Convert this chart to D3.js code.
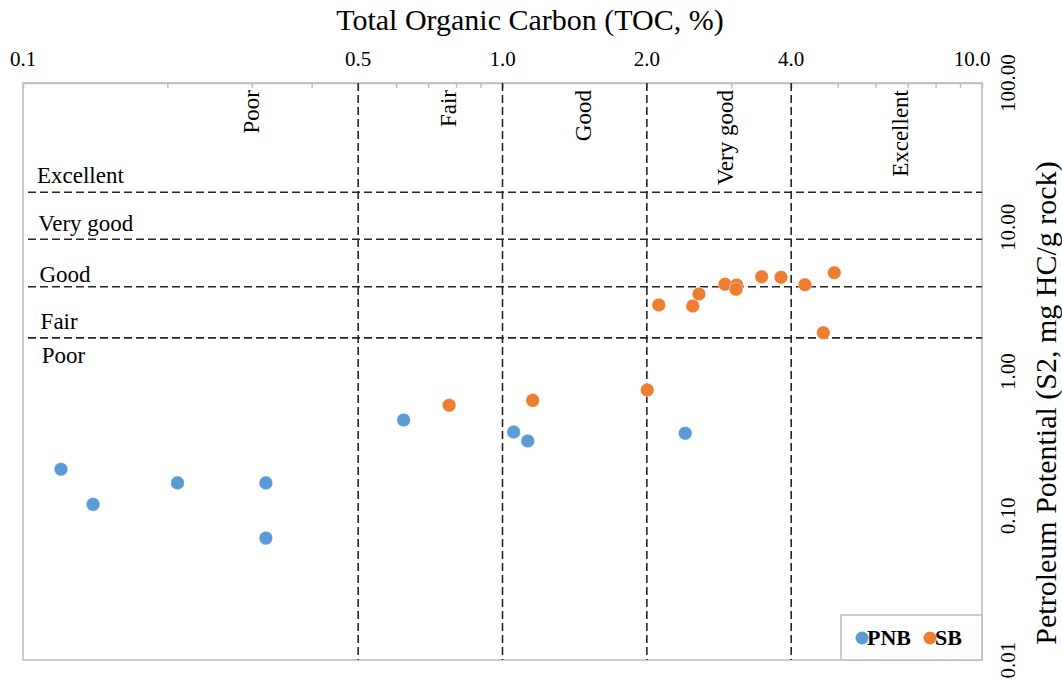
<!DOCTYPE html>
<html>
<head>
<meta charset="utf-8">
<script src="https://cdn.jsdelivr.net/npm/d3@7"></script>
<style>
  html, body { margin: 0; padding: 0; background: #fff; }
  svg { display: block; }
</style>
</head>
<body>
<svg id="chart" width="1062" height="679" font-family="'Liberation Serif', 'Times New Roman', 'DejaVu Serif', serif"></svg>
<script>
// ---------------- DATA ----------------
const seriesNames = ["PNB", "SB"];
const seriesColors = ["#5b9bd5", "#ed7d31"];

// PNB: TOC (%), S2 (mg HC/g rock)
const pnbTOC = [0.120, 0.140, 0.210, 0.321, 0.321, 0.622, 1.055, 1.129, 2.405];
const pnbS2  = [0.210, 0.120, 0.169, 0.169, 0.070, 0.461, 0.381, 0.330, 0.373];

// SB
const sbTOC = [0.774, 1.156, 2.004, 2.118, 2.493, 2.569, 2.911, 3.079, 3.069, 3.471, 3.809, 4.274, 4.667, 4.920];
const sbS2  = [0.583, 0.631, 0.744, 2.891, 2.845, 3.446, 4.023, 3.979, 3.714, 4.542, 4.498, 3.998, 1.858, 4.842];

// Axis ticks
const xTickValues = [0.1, 0.5, 1, 2, 4, 10];
const xTickLabels = ["0.1", "0.5", "1.0", "2.0", "4.0", "10.0"];
const yTickValues = [0.01, 0.1, 1, 10, 100];
const yTickLabels = ["0.01", "0.10", "1.00", "10.00", "100.00"];

// Classification thresholds (as drawn)
const tocThresholds = [0.5, 1, 2, 4];
const tocClassNames = ["Poor", "Fair", "Good", "Very good", "Excellent"];
const tocClassPos   = [0.31, 0.80, 1.53, 3.02, 7.0];    // label baselines (TOC)
const s2Thresholds  = [17.5, 8.25, 3.87, 1.71];
const s2ClassNames  = ["Excellent", "Very good", "Good", "Fair", "Poor"];
const s2ClassPos    = [20.3, 9.42, 4.19, 1.97, 1.145];  // label baselines (S2)

const xTitle = "Total Organic Carbon (TOC, %)";
const yTitle = "Petroleum Potential (S2, mg HC/g rock)";

// ---------------- LAYOUT ----------------
const svg = d3.select("#chart");
const L = 23, R = 982, T = 83, B = 660;
const x = d3.scaleLog().domain([0.1, 10]).range([L, R]);
const y = d3.scaleLog().domain([0.01, 100]).range([B, T]);
const axisColor = "#bfbfbf";
const dash = "8,4";
const lineColor = "#262626";
const serif = "'Liberation Serif', 'Times New Roman', 'DejaVu Serif', serif";

// plot frame
svg.append("rect").attr("x", L).attr("y", T).attr("width", R - L).attr("height", B - T)
  .attr("fill", "none").attr("stroke", axisColor).attr("stroke-width", 1.6);

// top axis with minor ticks (inside)
const topAxis = d3.axisTop(x).tickValues(x.ticks()).tickSizeInner(-5).tickSizeOuter(0).tickFormat("");
const gTop = svg.append("g").attr("transform", `translate(0,${T})`).call(topAxis);
gTop.select(".domain").attr("stroke", axisColor).attr("stroke-width", 1.6);
gTop.selectAll(".tick line").attr("stroke", axisColor).attr("stroke-width", 1.5);

// top tick labels
svg.append("g").selectAll("text").data(xTickValues).join("text")
  .attr("x", (d, i) => x(d) + (i === xTickValues.length - 1 ? -10 : 0))
  .attr("y", 66)
  .attr("text-anchor", "middle")
  .attr("font-family", serif)
  .attr("font-size", 21)
  .text((d, i) => xTickLabels[i]);

// right tick labels (rotated)
svg.append("g").selectAll("text").data(yTickValues).join("text")
  .attr("transform", d => `translate(1015,${y(d)}) rotate(-90)`)
  .attr("text-anchor", "middle")
  .attr("font-family", serif)
  .attr("font-size", 21)
  .text((d, i) => yTickLabels[i]);

// threshold lines
svg.append("g").selectAll("line").data(tocThresholds).join("line")
  .attr("x1", d => x(d)).attr("x2", d => x(d))
  .attr("y1", T).attr("y2", B)
  .attr("stroke", lineColor).attr("stroke-width", 1.6).attr("stroke-dasharray", dash);

svg.append("g").selectAll("line").data(s2Thresholds).join("line")
  .attr("x1", L + 5).attr("x2", R)
  .attr("y1", d => y(d)).attr("y2", d => y(d))
  .attr("stroke", lineColor).attr("stroke-width", 1.6).attr("stroke-dasharray", dash);

// class labels (TOC, vertical)
svg.append("g").selectAll("text").data(tocClassNames).join("text")
  .attr("transform", (d, i) => `translate(${x(tocClassPos[i])},90) rotate(-90)`)
  .attr("text-anchor", "end")
  .attr("font-family", serif)
  .attr("font-size", 23)
  .text(d => d);

// class labels (S2, horizontal)
svg.append("g").selectAll("text").data(s2ClassNames).join("text")
  .attr("x", (d, i) => 37 + i * 1.2)
  .attr("y", (d, i) => y(s2ClassPos[i]))
  .attr("font-family", serif)
  .attr("font-size", 23)
  .text(d => d);

// points
const pnb = pnbTOC.map((t, i) => ({ toc: t, s2: pnbS2[i] }));
const sb = sbTOC.map((t, i) => ({ toc: t, s2: sbS2[i] }));
[pnb, sb].forEach((data, k) => {
  svg.append("g").selectAll("circle").data(data).join("circle")
    .attr("cx", d => x(d.toc)).attr("cy", d => y(d.s2))
    .attr("r", 6.8)
    .attr("fill", seriesColors[k])
    .attr("stroke", "#ffffff").attr("stroke-width", 0.6).attr("stroke-opacity", 0.6);
});

// legend
const lg = svg.append("g");
lg.append("rect").attr("x", R - 141).attr("y", B - 45).attr("width", 141).attr("height", 45)
  .attr("fill", "#fff").attr("stroke", axisColor).attr("stroke-width", 1.6);
const legendX = [R - 120, R - 52];
seriesNames.forEach((n, i) => {
  lg.append("circle").attr("cx", legendX[i]).attr("cy", B - 22).attr("r", 6.5).attr("fill", seriesColors[i]);
  lg.append("text").attr("x", legendX[i] + 5).attr("y", B - 15)
    .attr("font-family", serif)
    .attr("font-size", 22).attr("font-weight", "bold").text(n);
});

// axis titles
svg.append("text").attr("x", 530).attr("y", 30).attr("text-anchor", "middle")
  .attr("font-family", serif)
  .attr("font-size", 30).text(xTitle);
svg.append("text").attr("transform", `translate(1056,403) rotate(-90)`).attr("text-anchor", "middle")
  .attr("font-family", serif)
  .attr("font-size", 30).text(yTitle);
</script>
</body>
</html>
